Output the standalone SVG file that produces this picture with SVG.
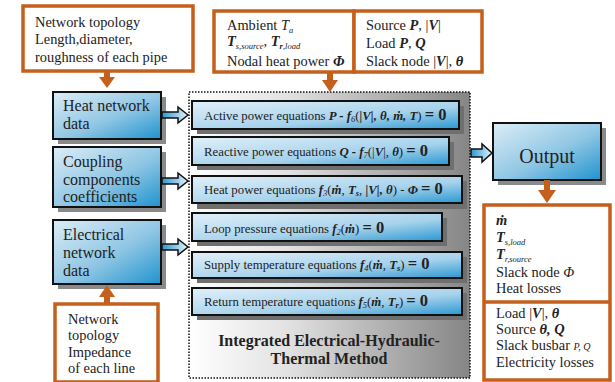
<svg xmlns="http://www.w3.org/2000/svg" width="615" height="382" viewBox="0 0 615 382" font-family="'Liberation Serif', 'Times New Roman', 'DejaVu Serif', serif">
<defs>
<linearGradient id="blue" x1="0" y1="0" x2="1" y2="1">
<stop offset="0" stop-color="#dcedf7"/>
<stop offset="0.55" stop-color="#8fc6e4"/>
<stop offset="1" stop-color="#1f93cf"/>
</linearGradient>
<linearGradient id="eq" x1="0" y1="0" x2="1" y2="1">
<stop offset="0" stop-color="#e2f0f9"/>
<stop offset="0.6" stop-color="#a6d2ec"/>
<stop offset="1" stop-color="#2a98d2"/>
</linearGradient>
<linearGradient id="arr" x1="0" y1="0" x2="1" y2="0">
<stop offset="0" stop-color="#2a98d2"/>
<stop offset="1" stop-color="#e6f3fa"/>
</linearGradient>
<linearGradient id="panel" x1="0" y1="0" x2="1" y2="0">
<stop offset="0" stop-color="#ffffff"/>
<stop offset="0.35" stop-color="#e2e2e2"/>
<stop offset="1" stop-color="#858585"/>
</linearGradient>
</defs>
<style>
text{font-family:'Liberation Serif','Times New Roman','DejaVu Serif',serif;fill:#222;}
.ob{fill:#fff;stroke:#c55f1c;stroke-width:3.5;}
.oa{fill:#c55f1c;}
.bb{fill:url(#blue);stroke:#111;stroke-width:2;}
.eb{fill:url(#eq);stroke:#111;stroke-width:2;}
.sh{fill:#6f6f6f;}
.sh2{fill:#8a8a8a;}
.t13{font-size:14.4px;}
.t15{font-size:16px;}
.eqt{font-size:12.8px;}
.bi{font-weight:bold;font-style:italic;}
.i{font-style:italic;}
.z{font-weight:bold;font-size:16.5px;}
.sub{font-size:8.5px;}
.ba{fill:url(#arr);stroke:#111;stroke-width:1.5;}
</style>

<!-- Panel -->
<g id="panel">
<rect x="189" y="92" width="281" height="286" fill="url(#panel)" stroke="#111" stroke-width="1.5" stroke-dasharray="1.5,1.5"/>
<text x="329" y="346" text-anchor="middle" font-weight="bold" font-size="16" fill="#333">Integrated Electrical-Hydraulic-</text>
<text x="329" y="364" text-anchor="middle" font-weight="bold" font-size="16" fill="#333">Thermal Method</text>
</g>

<!-- Top-left data box -->
<g id="pipe-data">
<rect class="ob" x="23" y="6" width="170" height="65"/>
<text class="t13" x="35" y="27">Network topology</text>
<text class="t13" x="35" y="44">Length,diameter,</text>
<text class="t13" x="35" y="62">roughness of each pipe</text>
</g>

<!-- Top-middle heat box -->
<g id="heat-inputs">
<rect class="ob" x="214" y="11" width="140" height="61"/>
<text class="t13" x="227" y="30">Ambient <tspan class="i">T</tspan><tspan class="i sub" dy="2.5">a</tspan></text>
<text class="t13" x="227" y="46"><tspan class="bi">T</tspan><tspan class="i sub" dy="2.5">s,source</tspan><tspan dy="-2.5">, </tspan><tspan class="bi">T</tspan><tspan class="bi sub" dy="2.5">r</tspan><tspan class="i sub">,load</tspan></text>
<text class="t13" x="227" y="66">Nodal heat power <tspan class="bi">Φ</tspan></text>
</g>

<!-- Top-right electric box -->
<g id="elec-inputs">
<rect class="ob" x="354" y="11" width="128" height="61"/>
<text class="t13" x="366" y="30">Source <tspan class="bi">P</tspan>, |<tspan class="bi">V</tspan>|</text>
<text class="t13" x="366" y="48">Load <tspan class="bi">P</tspan>, <tspan class="bi">Q</tspan></text>
<text class="t13" x="366" y="66">Slack node |<tspan class="bi">V</tspan>|, <tspan class="bi">θ</tspan></text>
</g>

<!-- Bottom-left line data box -->
<g id="line-data">
<rect class="ob" x="55" y="304" width="103" height="78"/>
<text class="t13" x="68" y="324">Network</text>
<text class="t13" x="68" y="340">topology</text>
<text class="t13" x="68" y="357">Impedance</text>
<text class="t13" x="68" y="373">of each line</text>
</g>

<!-- Left blue boxes -->
<g id="heat-network-data">
<rect class="sh2" x="58" y="97" width="108" height="47"/>
<rect class="bb" x="53" y="92" width="108" height="47"/>
<text class="t15" x="63" y="111">Heat network</text>
<text class="t15" x="63" y="129">data</text>
</g>
<g id="coupling">
<rect class="sh2" x="58" y="152" width="108" height="60"/>
<rect class="bb" x="53" y="147" width="108" height="60"/>
<text class="t15" x="63" y="167">Coupling</text>
<text class="t15" x="63" y="185">components</text>
<text class="t15" x="63" y="202">coefficients</text>
</g>
<g id="electrical-network-data">
<rect class="sh2" x="58" y="225" width="108" height="64"/>
<rect class="bb" x="53" y="220" width="108" height="64"/>
<text class="t15" x="63" y="240">Electrical</text>
<text class="t15" x="63" y="258">network</text>
<text class="t15" x="63" y="276">data</text>
</g>

<!-- Equation boxes -->
<g id="eq-active">
<rect class="sh" x="197" y="106" width="267" height="28"/>
<rect class="eb" x="192" y="101" width="267" height="28"/>
<text class="eqt" x="204" y="120">Active power equations <tspan class="bi">P - f</tspan><tspan class="i sub" dy="2">6</tspan><tspan dy="-2">(</tspan><tspan class="bi">|V|, θ, ṁ, T</tspan>) <tspan class="z">= 0</tspan></text>
</g>
<g id="eq-reactive">
<rect class="sh" x="197" y="142" width="257" height="28"/>
<rect class="eb" x="192" y="137" width="257" height="28"/>
<text class="eqt" x="204" y="156">Reactive power equations <tspan class="bi">Q - f</tspan><tspan class="i sub" dy="2">7</tspan><tspan dy="-2">(|</tspan><tspan class="bi">V</tspan>|, <tspan class="bi">θ</tspan>) <tspan class="z">= 0</tspan></text>
</g>
<g id="eq-heat">
<rect class="sh" x="197" y="181" width="270" height="28"/>
<rect class="eb" x="192" y="176" width="270" height="27"/>
<text class="eqt" x="204" y="194">Heat power equations <tspan class="bi">f</tspan><tspan class="i sub" dy="2">3</tspan><tspan dy="-2">(</tspan><tspan class="bi">ṁ</tspan>, <tspan class="bi">T</tspan><tspan class="bi sub" dy="2">s</tspan><tspan dy="-2">, </tspan><tspan class="bi">|V|, θ</tspan>) - <tspan class="bi">Φ</tspan> <tspan class="z">= 0</tspan></text>
</g>
<g id="eq-loop">
<rect class="sh" x="197" y="218" width="250" height="28"/>
<rect class="eb" x="192" y="213" width="250" height="28"/>
<text class="eqt" x="204" y="233">Loop pressure equations <tspan class="bi">f</tspan><tspan class="i sub" dy="2">2</tspan><tspan dy="-2">(</tspan><tspan class="bi">ṁ</tspan>) <tspan class="z">= 0</tspan></text>
</g>
<g id="eq-supply">
<rect class="sh" x="197" y="257" width="270" height="26"/>
<rect class="eb" x="192" y="252" width="270" height="26"/>
<text class="eqt" x="204" y="269">Supply temperature equations  <tspan class="bi">f</tspan><tspan class="i sub" dy="2">4</tspan><tspan dy="-2">(</tspan><tspan class="bi">ṁ</tspan>, <tspan class="bi">T</tspan><tspan class="bi sub" dy="2">s</tspan><tspan dy="-2">) </tspan><tspan class="z">= 0</tspan></text>
</g>
<g id="eq-return">
<rect class="sh" x="197" y="293" width="270" height="27"/>
<rect class="eb" x="192" y="288" width="270" height="27"/>
<text class="eqt" x="204" y="306">Return temperature equations  <tspan class="bi">f</tspan><tspan class="i sub" dy="2">5</tspan><tspan dy="-2">(</tspan><tspan class="bi">ṁ</tspan>, <tspan class="bi">T</tspan><tspan class="bi sub" dy="2">r</tspan><tspan dy="-2">)  </tspan><tspan class="z">= 0</tspan></text>
</g>

<!-- Output -->
<g id="output">
<rect class="sh2" x="498" y="128" width="108" height="57"/>
<rect class="bb" x="493" y="123" width="108" height="57"/>
<text x="547" y="163" text-anchor="middle" font-size="20">Output</text>
</g>

<!-- Output results box -->
<g id="results">
<rect class="ob" x="484" y="205" width="126" height="175"/>
<line x1="484" y1="302" x2="610" y2="302" stroke="#c55f1c" stroke-width="3.5"/>
<text class="t13" x="496" y="225"><tspan class="bi">ṁ</tspan></text>
<text class="t13" x="496" y="242"><tspan class="bi">T</tspan><tspan class="i sub" dy="2.5">s,load</tspan></text>
<text class="t13" x="496" y="259"><tspan class="bi">T</tspan><tspan class="i sub" dy="2.5">r,source</tspan></text>
<text class="t13" x="496" y="277">Slack node <tspan class="i">Φ</tspan></text>
<text class="t13" x="496" y="293">Heat losses</text>
<text class="t13" x="496" y="318">Load |<tspan class="bi">V</tspan>|, <tspan class="bi">θ</tspan></text>
<text class="t13" x="496" y="334">Source <tspan class="bi">θ, Q</tspan></text>
<text class="t13" x="496" y="350">Slack busbar <tspan class="i" font-size="10">P, Q</tspan></text>
<text class="t13" x="496" y="367">Electricity losses</text>
</g>

<!-- Connectors -->
<g id="connectors">
<path class="oa" d="M104,71 h6 v6 h5 l-8,11 l-8,-11 h5 z"/>
<path class="oa" d="M327,72 h6 v8 h5 l-8,12 l-8,-12 h5 z"/>
<path class="oa" d="M544,180 h6 v10 h6 l-9,13 l-9,-13 h6 z"/>
<path class="oa" d="M104,304 h6 v-7 h5 l-8,-12 l-8,12 h5 z"/>
<path class="ba" d="M162,112 h16 v-5 l10,8 l-10,8 v-5 h-16 z"/>
<path class="ba" d="M162,178 h16 v-5 l10,8 l-10,8 v-5 h-16 z"/>
<path class="ba" d="M162,244 h16 v-5 l10,8 l-10,8 v-5 h-16 z"/>
<path class="ba" d="M471,149 h11 v-5 l10,9 l-10,9 v-5 h-11 z"/>
</g>
</svg>
